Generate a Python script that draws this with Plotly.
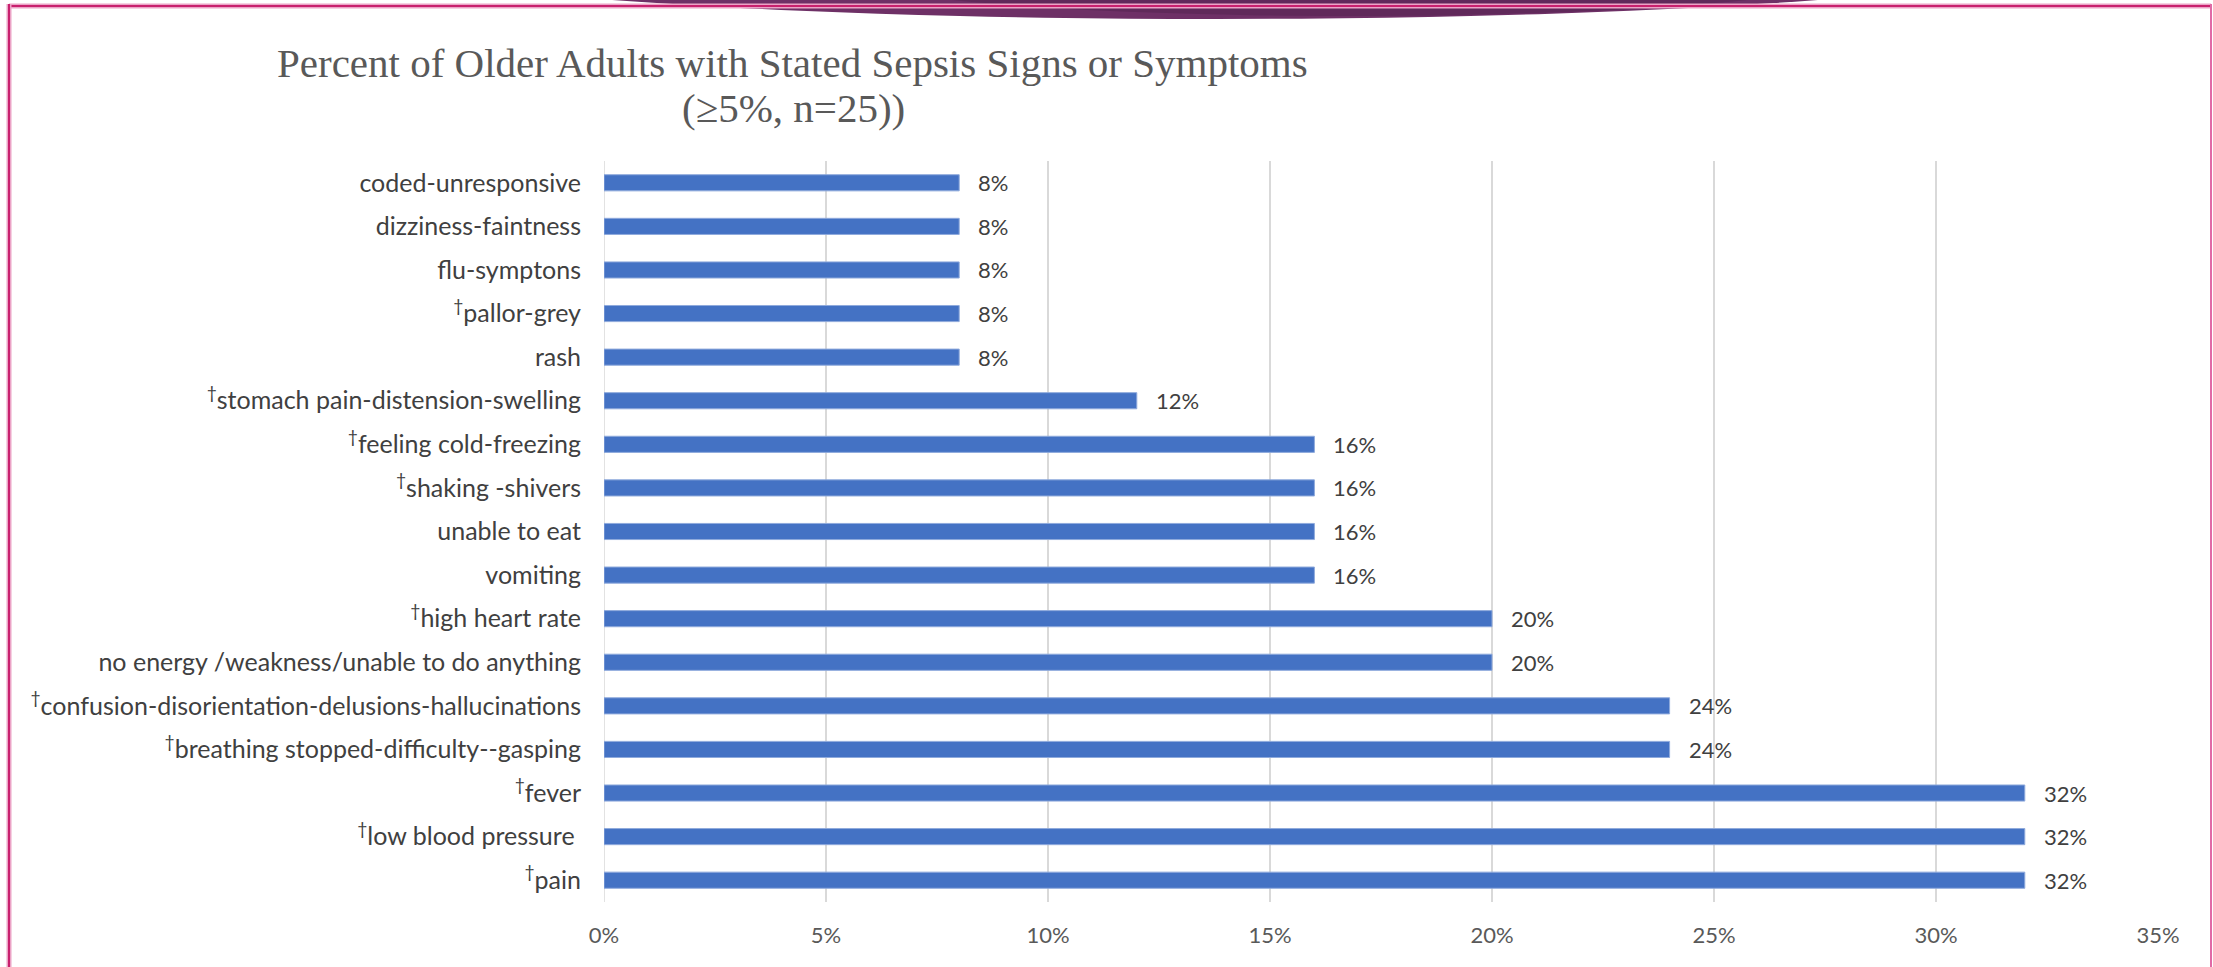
import plotly.graph_objects as go

# ---- data (top-to-bottom order as shown) ----
categories = [
    "coded-unresponsive",
    "dizziness-faintness",
    "flu-symptons",
    "pallor-grey",
    "rash",
    "stomach pain-distension-swelling",
    "feeling cold-freezing",
    "shaking -shivers",
    "unable to eat",
    "vomiting",
    "high heart rate",
    "no energy /weakness/unable to do anything",
    "confusion-disorientation-delusions-hallucinations",
    "breathing stopped-difficulty--gasping",
    "fever",
    "low blood pressure",
    "pain",
]
dagger = [False, False, False, True, False, True, True, True, False, False,
          True, False, True, True, True, True, True]
values = [8, 8, 8, 8, 8, 12, 16, 16, 16, 16, 20, 20, 24, 24, 32, 32, 32]
x_ticks = [0, 5, 10, 15, 20, 25, 30, 35]
title_line1 = "Percent of Older Adults with Stated Sepsis Signs or Symptoms"
title_line2 = "(≥5%, n=25))"

W, H = 2213, 967
L, R, T, B = 604, 55, 161, 65
pw, ph = W - L - R, H - T - B

def px(X):
    return (X - L) / pw

def py(Y):
    return (H - B - Y) / ph

ticktext = []
for c, d in zip(categories, dagger):
    t = ("<sup>†</sup>" if d else "") + c
    if c == "low blood pressure":
        t += "\u00a0"
    ticktext.append(t)

label_font = "Lato, 'Open Sans', sans-serif"

fig = go.Figure()
fig.add_trace(go.Bar(
    x=values, y=categories, orientation="h",
    marker=dict(color="#4472C4", line=dict(color="#8FAADC", width=1)),
    hoverinfo="skip",
))

annotations = []
for c, v in zip(categories, values):
    annotations.append(dict(
        x=v, y=c, xref="x", yref="y", text=f"{v}%", showarrow=False,
        xanchor="left", yanchor="middle", xshift=17,
        font=dict(family=label_font, size=22, color="#404040"),
    ))

annotations.append(dict(
    x=px(792), y=py(63), xref="paper", yref="paper", text=title_line1,
    showarrow=False, xanchor="center", yanchor="middle",
    font=dict(family="Liberation Serif, serif", size=41, color="#595959"),
))
annotations.append(dict(
    x=px(793), y=py(108), xref="paper", yref="paper", text=title_line2,
    showarrow=False, xanchor="center", yanchor="middle",
    font=dict(family="Liberation Serif, serif", size=41, color="#595959"),
))

shapes = [
    # purple decorative ellipse at top (two tones to hint at the gradient)
    dict(type="circle", xref="paper", yref="paper",
         x0=px(1215 - 880), x1=px(1215 + 880), y0=py(19), y1=py(19 - 140),
         fillcolor="#6E3066", line=dict(width=0), layer="above"),
    dict(type="circle", xref="paper", yref="paper",
         x0=px(1350 - 520), x1=px(1350 + 520), y0=py(16), y1=py(16 - 90),
         fillcolor="#5A2656", line=dict(width=0), layer="above", opacity=0.7),
    # pink frame (light outer, dark inner)
    dict(type="line", xref="paper", yref="paper", x0=px(9), x1=px(2211),
         y0=py(6), y1=py(6), line=dict(color="#EBA3C6", width=5), layer="above"),
    dict(type="line", xref="paper", yref="paper", x0=px(9), x1=px(2211),
         y0=py(6), y1=py(6), line=dict(color="#C8206E", width=2), layer="above"),
    dict(type="line", xref="paper", yref="paper", x0=px(9), x1=px(9),
         y0=py(4), y1=py(970), line=dict(color="#EBA3C6", width=5), layer="above"),
    dict(type="line", xref="paper", yref="paper", x0=px(9), x1=px(9),
         y0=py(4), y1=py(970), line=dict(color="#C8206E", width=2), layer="above"),
    dict(type="line", xref="paper", yref="paper", x0=px(2211), x1=px(2211),
         y0=py(4), y1=py(970), line=dict(color="#E06AA6", width=2), layer="above"),
]

fig.update_layout(
    width=W, height=H,
    margin=dict(l=L, r=R, t=T, b=B, pad=0),
    paper_bgcolor="white", plot_bgcolor="white",
    showlegend=False,
    bargap=0.63,
    annotations=annotations,
    shapes=shapes,
    font=dict(family=label_font, color="#404040"),
)
fig.update_xaxes(
    range=[0, 35], tickvals=x_ticks, ticktext=[f"{t}%" for t in x_ticks],
    showgrid=True, gridcolor="#D9D9D9", gridwidth=1.5,
    zeroline=False, showline=False, ticks="",
    ticklabelstandoff=18,
    tickfont=dict(family=label_font, size=22, color="#595959"),
)
fig.update_yaxes(
    categoryorder="array", categoryarray=categories,
    autorange="reversed",
    tickvals=categories, ticktext=ticktext,
    showgrid=False, zeroline=False, showline=False, ticks="",
    ticklabelstandoff=22,
    tickfont=dict(family=label_font, size=25, color="#404040"),
)
# zero line as y-axis line
fig.add_vline(x=0, line=dict(color="#D9D9D9", width=1.5), layer="below")

fig.write_html("out.html")
